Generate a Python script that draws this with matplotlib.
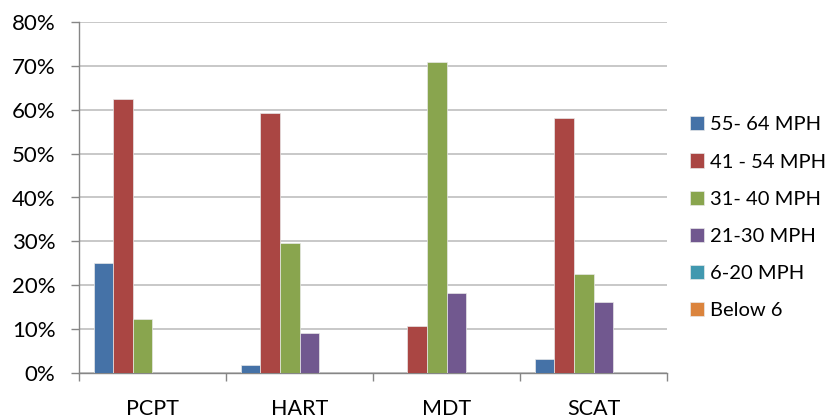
import numpy as np
import matplotlib
matplotlib.use("Agg")
import matplotlib.pyplot as plt
from matplotlib.ticker import FixedLocator, FuncFormatter

plt.rcParams['font.family'] = ['Lato', 'DejaVu Sans']

categories = ["PCPT", "HART", "MDT", "SCAT"]
series_names = ["55- 64 MPH", "41 - 54 MPH", "31- 40 MPH", "21-30 MPH", "6-20 MPH", "Below 6"]
colors = ["#4572A7", "#AA4643", "#89A54E", "#71588F", "#4198AF", "#DB843D"]

# percent values, one list per series (PCPT, HART, MDT, SCAT)
s55_64 = [25.0, 1.8, 0.0, 3.2]
s41_54 = [62.5, 59.3, 10.8, 58.1]
s31_40 = [12.4, 29.6, 70.9, 22.6]
s21_30 = [0.0, 9.2, 18.2, 16.1]
s6_20 = [0.0, 0.0, 0.0, 0.0]
below6 = [0.0, 0.0, 0.0, 0.0]
values = [s55_64, s41_54, s31_40, s21_30, s6_20, below6]

fig = plt.figure(figsize=(8.33, 4.19), dpi=100)
ax = fig.add_axes([79 / 833, (419 - 373) / 419, (667 - 79) / 833, (373 - 22) / 419])

n = len(series_names)
bar_w = 1 / 7.5  # excel gap width 150%
x = np.arange(len(categories))
for i, (name, vals) in enumerate(zip(series_names, values)):
    offs = -0.5 + 0.75 * bar_w + (i + 0.5) * bar_w
    ax.bar(x + offs, vals, width=bar_w, color=colors[i], label=name,
           edgecolor="#e8e8e8", linewidth=0.5, zorder=3)

ax.set_xlim(-0.5, len(categories) - 0.5)
ax.set_ylim(0, 80)
ax.set_yticks(np.arange(0, 81, 10))
ax.yaxis.set_major_formatter(FuncFormatter(lambda v, p: f"{int(v)}%"))
ax.yaxis.grid(True, color="#BFBFBF", linewidth=1.2, zorder=0)

ax.xaxis.set_major_locator(FixedLocator(np.arange(-0.5, len(categories), 1)))
ax.xaxis.set_major_formatter(FuncFormatter(lambda v, p: ""))
ax.xaxis.set_minor_locator(FixedLocator(x))
ax.set_xticklabels(categories, minor=True)
ax.tick_params(axis="x", which="minor", length=0, labelsize=15.5, pad=19)
ax.tick_params(axis="x", which="major", length=6, color="#868686", width=1)
ax.tick_params(axis="y", length=6, color="#868686", width=1, labelsize=16, pad=11)

for s in ["top", "right"]:
    ax.spines[s].set_visible(False)
for s in ["left", "bottom"]:
    ax.spines[s].set_color("#868686")
    ax.spines[s].set_linewidth(1)

ax.legend(loc="center left", bbox_to_anchor=(1.025, 0.442), frameon=False,
          fontsize=14.5, handlelength=0.7, handleheight=0.7, handletextpad=0.3,
          labelspacing=1.0, borderaxespad=0)

fig.savefig("out.png", dpi=100)
